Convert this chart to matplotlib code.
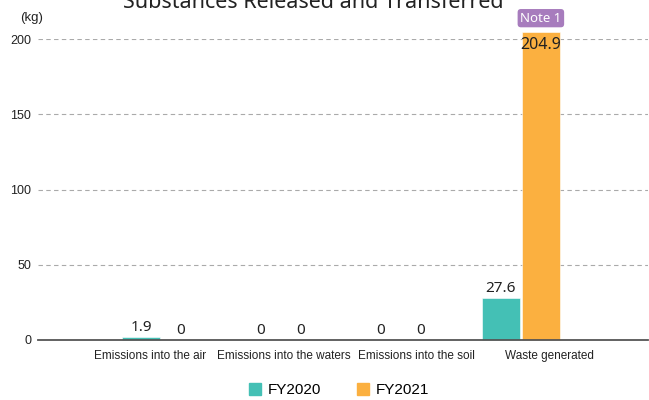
import matplotlib
matplotlib.use("Agg")
import matplotlib.pyplot as plt
from matplotlib.patches import Patch
import numpy as np

categories = ["Emissions into the air", "Emissions into the waters",
              "Emissions into the soil", "Waste generated"]
fy2020 = [1.9, 0, 0, 27.6]
fy2021 = [0, 0, 0, 204.9]
series_names = ["FY2020", "FY2021"]
yticks = [0, 50, 100, 150, 200]

teal = "#44c0b5"
orange = "#fbb040"
purple = "#a77cbd"

W, H = 649, 400
fig = plt.figure(figsize=(W / 100, H / 100), dpi=100)
# axes placed in pixel terms: x 38..648, y baseline 340, 200-line at 39
ax = fig.add_axes([38 / W, 1 - 340 / H, 610 / W, 301 / H])

x = np.arange(len(categories))
bw = 0.317
off = 0.167
b1 = ax.bar(x - off, fy2020, bw, color=teal, edgecolor="white", lw=0.4,
            clip_on=False, zorder=3)
b2 = ax.bar(x + off, fy2021, bw, color=orange, edgecolor="white", lw=0.4,
            clip_on=False, zorder=3)

ax.set_xlim(-1.025, 4.06)
ax.set_ylim(0, 200)

lbl_font = "Noto Sans"
for bars, vals in ((b1, fy2020), (b2, fy2021)):
    for r, v in zip(bars, vals):
        cx = r.get_x() + r.get_width() / 2
        txt = f"{v:g}"
        if v > 200:
            ax.annotate(txt, (cx, 200), xytext=(0, -4.5), textcoords="offset points",
                        ha="center", va="center", fontsize=11.5,
                        family=lbl_font, color="#222", zorder=5, annotation_clip=False)
            ax.annotate("Note 1", (cx, 200), xytext=(0, 15), textcoords="offset points",
                        ha="center", va="center", fontsize=9.5, family=lbl_font,
                        color="white", zorder=6, annotation_clip=False,
                        bbox=dict(boxstyle="round,pad=0.2,rounding_size=0.25",
                                  fc=purple, ec="none"))
        else:
            ax.annotate(txt, (cx, v), xytext=(0, 1.5), textcoords="offset points",
                        ha="center", va="bottom", fontsize=11,
                        family=lbl_font, color="#222", zorder=5)

for s in ax.spines.values():
    s.set_visible(False)
for yv in yticks[1:]:
    ax.axhline(yv, color="#aaaaaa", lw=0.8, ls=(0, (4, 3)), zorder=1)
ax.axhline(0, color="#555555", lw=1.3, zorder=4, clip_on=False)

ax.set_yticks(yticks)
ax.tick_params(axis="y", length=0, pad=5, labelsize=9, labelcolor="#222")
ax.set_yticklabels([str(t) for t in yticks], family="Liberation Sans")
# category labels are spread a little wider than the bar groups
ax.set_xticks(x * 1.11 - 0.09)
ax.set_xticklabels(categories, family="Liberation Sans", fontsize=8.5, color="#222")
ax.tick_params(axis="x", length=0, pad=7)

fig.text(20 / W, 1 - 18 / H, "(kg)", fontsize=9.5, family="Liberation Sans",
         color="#222", ha="left", va="center")
fig.text(313 / W, 1 - 8 / H, "Substances Released and Transferred", fontsize=15.5,
         family=lbl_font, color="#222", ha="center", va="baseline")

handles = [Patch(color=teal), Patch(color=orange)]
fig.legend(handles, series_names, loc="center", bbox_to_anchor=(339 / W, 1 - 390 / H),
           ncol=2, frameon=False, handlelength=0.8, handleheight=0.8,
           handletextpad=0.45, columnspacing=2.3,
           prop={"family": "Liberation Sans", "size": 11})

fig.savefig("out.png", dpi=100)
